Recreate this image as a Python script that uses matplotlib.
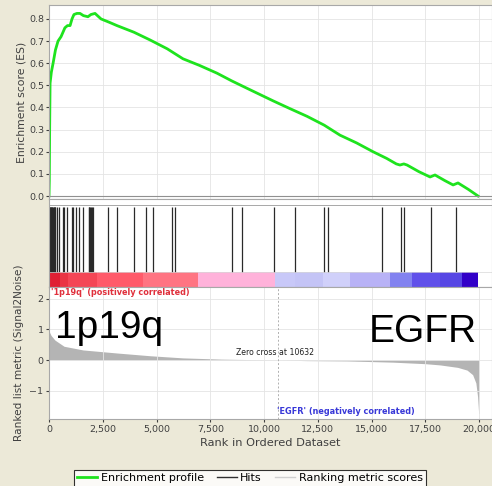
import numpy as np
import matplotlib
matplotlib.use("Agg")
import matplotlib.pyplot as plt
from matplotlib.lines import Line2D
from matplotlib.ticker import FuncFormatter

# enrichment profile (rank, ES)
es_rank = [0, 15, 30, 50, 110, 190, 300, 420, 560, 740, 860, 980, 1070, 1160, 1300,
           1440, 1600, 1810, 1950, 2140, 2420, 2800, 3160, 3950, 4700, 5500, 6230,
           7000, 7810, 8500, 9350, 10420, 11200, 12000, 12800, 13530, 14300, 15070,
           15700, 16150, 16320, 16500, 16650, 17200, 17720, 17950, 18400, 18790,
           19020, 19500, 19950]
es_val = [0.0, 0.07, 0.3, 0.51, 0.56, 0.60, 0.66, 0.70, 0.72, 0.76, 0.77, 0.77, 0.80,
          0.82, 0.825, 0.825, 0.815, 0.81, 0.82, 0.825, 0.80, 0.785, 0.77, 0.74, 0.705,
          0.665, 0.62, 0.59, 0.555, 0.52, 0.48, 0.43, 0.395, 0.36, 0.32, 0.275, 0.24,
          0.20, 0.17, 0.145, 0.14, 0.145, 0.14, 0.11, 0.086, 0.095, 0.07, 0.05, 0.059,
          0.03, 0.0]

# positions of gene set members (hits)
hits = [10, 35, 60, 85, 110, 135, 160, 185, 210, 235, 260, 285, 372, 465, 651, 698,
        837, 1070, 1116, 1256, 1395, 1581, 1840, 1880, 1920, 1960, 2000, 2046, 2744,
        3163, 3953, 4512, 4837, 5721, 5860, 8512, 8977, 10465, 11442, 12791, 12977,
        15488, 16372, 16512, 17767, 18930]

# colour bar segments (rank boundaries and colours)
bar_edges = [0, 510, 880, 2230, 4370, 6930, 10510, 11440, 12740, 14000, 15860,
             16880, 18180, 19200, 19950]
bar_colors = ["#e02034", "#ea3444", "#f44656", "#ff5a6a", "#ff7482", "#ffb2da",
              "#c8c8f8", "#c4c4f6", "#d0d0fa", "#b8b2f6", "#8282f0", "#6050ea",
              "#5646e4", "#3200c8"]

# ranked list metric (rank, value)
metric_rank = [0, 30, 100, 280, 700, 1580, 3160, 4700, 6230, 8000, 10632, 12000,
               13860, 16000, 17500, 18180, 19000, 19440, 19700, 19850, 19930, 19980, 20000]
metric_val = [1.0, 0.9, 0.8, 0.65, 0.45, 0.33, 0.23, 0.14, 0.07, 0.03, 0.0, -0.02,
              -0.03, -0.07, -0.12, -0.16, -0.24, -0.33, -0.48, -0.75, -1.2, -1.75, -1.75]
zero_cross = 10632

xticks = [0, 2500, 5000, 7500, 10000, 12500, 15000, 17500, 20000]

bg = "#ece9d8"
grid_c = "#e4e4e4"
spine_c = "#a8a8a8"
green = "#1ee31e"
txt_c = "#404040"

W, H = 492, 486
fig = plt.figure(figsize=(W / 100, H / 100), dpi=100, facecolor=bg)
plt.rcParams["font.family"] = ["DejaVu Sans"]


def px_axes(x0, y0, x1, y1):
    return fig.add_axes([x0 / W, 1 - y1 / H, (x1 - x0) / W, (y1 - y0) / H])


xmax = 20600

# top: enrichment score
ax1 = px_axes(49, 5, 492, 199)
ax1.plot(es_rank, es_val, color=green, lw=2.0, solid_joinstyle="round")
ax1.set_xlim(0, xmax)
ax1.set_ylim(-0.0135, 0.863)
ax1.set_yticks(np.arange(0, 0.81, 0.1))
ax1.yaxis.set_major_formatter(FuncFormatter(lambda v, p: f"{v:.1f}"))
ax1.set_xticks(xticks)
ax1.tick_params(axis="x", labelbottom=False, length=0)
ax1.tick_params(axis="y", labelsize=6.8, colors=txt_c, length=2, pad=1.5)
ax1.grid(True, color=grid_c, lw=0.6)
ax1.set_ylabel("Enrichment score (ES)", fontsize=7.8, color=txt_c, labelpad=2)
ax1.axhline(0, color="#909090", lw=0.8)

# middle: hits and colour bar
ax2 = px_axes(49, 199, 492, 287)
ax2.set_xlim(0, xmax)
ax2.set_ylim(0, 1)
for i in range(len(bar_colors)):
    ax2.axvspan(bar_edges[i], bar_edges[i + 1], ymin=0, ymax=0.17,
                color=bar_colors[i], lw=0)
ax2.vlines(hits, 0.17, 0.909, color="#2a2a2a", lw=0.9)
ax2.axhline(0.932, color=spine_c, lw=0.7)
ax2.axhline(0.17, color="#d8d8d8", lw=0.5)
ax2.set_xticks([])
ax2.set_yticks([])

# bottom: ranked list metric
ax3 = px_axes(49, 287, 492, 419)
ax3.fill_between(metric_rank, metric_val, 0, color="#b4b4b4", lw=0)
ax3.set_xlim(0, xmax)
ax3.set_ylim(-1.93, 2.39)
ax3.set_yticks([-1, 0, 1, 2])
ax3.set_xticks(xticks)
ax3.xaxis.set_major_formatter(FuncFormatter(lambda v, p: f"{int(v):,}"))
ax3.tick_params(labelsize=6.8, colors=txt_c, length=2, pad=2)
ax3.grid(True, color=grid_c, lw=0.6)
ax3.axvline(zero_cross, color="#b0b0b0", lw=0.7, ls=(0, (2, 2)))
ax3.set_xlabel("Rank in Ordered Dataset", fontsize=8.2, color=txt_c, labelpad=3)
ax3.set_ylabel("Ranked list metric (Signal2Noise)", fontsize=7.6, color=txt_c, labelpad=4)
ax3.text(zero_cross - 100, 0.1, "Zero cross at " + str(zero_cross), fontsize=5.6,
         ha="center", va="bottom", color="#202020")
ax3.text(100, 2.2, "'1p19q' (positively correlated)", fontsize=5.9, fontweight="bold",
         color="#e0303c", va="center", ha="left")
ax3.text(13800, -1.67, "'EGFR' (negatively correlated)", fontsize=5.9, fontweight="bold",
         color="#3838d8", va="center", ha="center")
ax3.text(300, 0.72, "1p19q", fontsize=28, family=["Liberation Sans"], color="black",
         va="baseline", ha="left")
ax3.text(19880, 0.58, "EGFR", fontsize=28, family=["Liberation Sans"], color="black",
         va="baseline", ha="right")

for ax in (ax1, ax2, ax3):
    for s in ax.spines.values():
        s.set_color(spine_c)
        s.set_linewidth(0.8)

handles = [Line2D([], [], color=green, lw=2),
           Line2D([], [], color="#303030", lw=1),
           Line2D([], [], color="#d0d0d0", lw=1)]
leg = fig.legend(handles, ["Enrichment profile", "Hits", "Ranking metric scores"],
                 loc="upper center", bbox_to_anchor=(0.508, 1 - 470 / H), ncol=3,
                 fontsize=8, frameon=True, fancybox=False, handlelength=1.8,
                 handletextpad=0.3, columnspacing=1.2, borderpad=0.3,
                 borderaxespad=0)
leg.get_frame().set_edgecolor("black")
leg.get_frame().set_linewidth(0.8)

fig.savefig("out.png", dpi=100, facecolor=bg)
